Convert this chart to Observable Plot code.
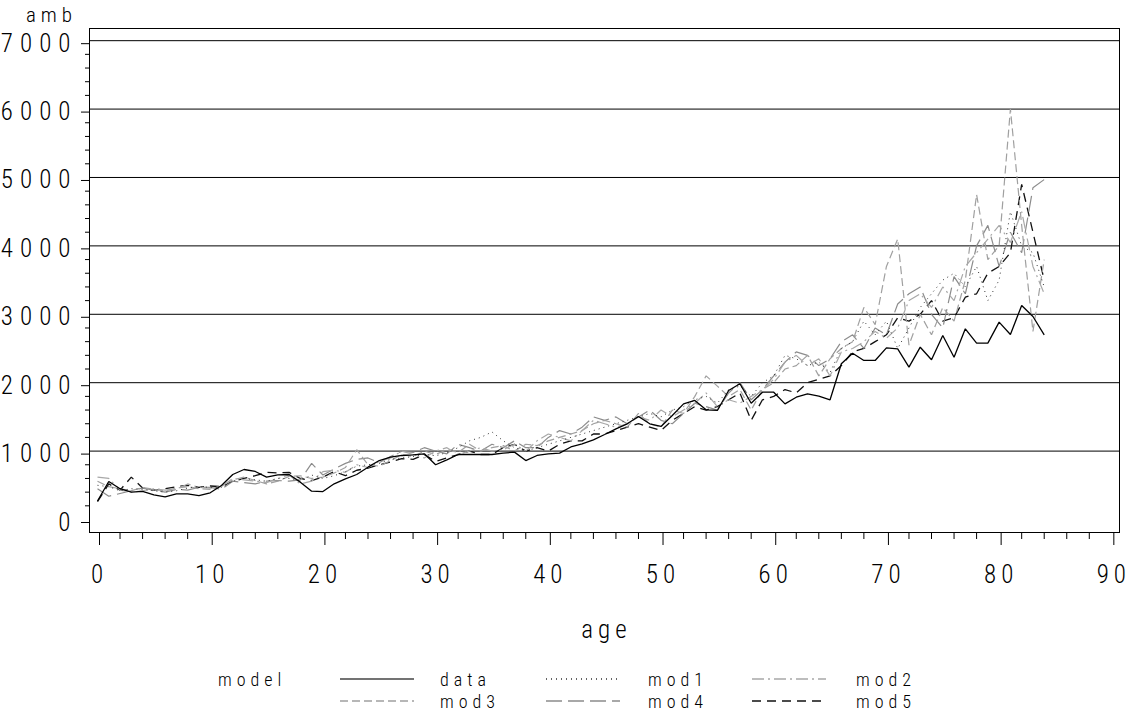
<!DOCTYPE html>
<html><head><meta charset="utf-8">
<script src="https://cdn.jsdelivr.net/npm/d3@7"></script>
<script src="https://cdn.jsdelivr.net/npm/@observablehq/plot@0.6"></script>
<style>
body{margin:0;background:#fff;}
#wrap{position:relative;width:1132px;height:721px;overflow:hidden;background:#fff;}
#chart svg text, #legend text{font-family:"Roboto Condensed","Liberation Sans Narrow","DejaVu Sans Condensed",sans-serif;font-weight:300;letter-spacing:5px;fill:#000;}
#chart svg g[aria-label="y-axis tick label"] text{letter-spacing:7px;}
#legend text{letter-spacing:5px;}
</style></head><body><div id="wrap"><div id="chart"></div><svg id="legend" width="1132" height="71"></svg></div>
<script>
const ages = Array.from({length: 85}, (_, i) => i);
const data = [270,555,450,400,410,360,330,375,375,350,390,497,658,731,702,619,653,658,546,414,409,522,595,658,765,862,911,936,945,960,800,873,950,950,950,950,970,985,862,936,960,970,1060,1106,1165,1243,1326,1399,1506,1399,1360,1520,1691,1740,1604,1594,1886,1984,1700,1861,1861,1691,1788,1837,1803,1750,2276,2431,2325,2325,2510,2495,2227,2519,2335,2690,2373,2788,2578,2578,2885,2705,3129,2968,2700];
const mod1 = [500,480,420,450,440,420,400,420,460,480, 470,470,560,600,580,560,600,600,570,650, 600,640,700,780,800,820,880,900,920,960, 930,980,1050,1150,1200,1280,1150,1050,1000,1050, 1100,1150,1200,1250,1300,1350,1400,1450,1500,1550, 1500,1600,1650,1750,1800,1700,1900,1950,1800,2000, 2100,2400,2350,2250,2300,2150,2500,2600,2900,2700, 2900,2500,2800,3100,3300,3500,3600,3400,3700,3200, 3500,4500,4000,3900,3400];
const mod2 = [620,600,430,400,420,450,430,440,520,470, 460,480,600,580,560,540,600,650,520,560, 700,720,690,800,760,850,900,1000,950,900, 1000,1050,950,1000,1050,1000,1020,1100,1000,1150, 1250,1200,1150,1300,1450,1400,1350,1400,1500,1450, 1600,1500,1600,1700,1850,1650,1750,1700,1800,1900, 2050,2300,2400,2250,2350,2100,2450,2500,2600,2750, 2650,2800,3200,3300,3100,3400,3200,3700,3900,4100, 4300,4050,4500,3700,3300];
const mod3 = [560,480,450,420,470,440,420,460,480,450, 440,490,580,620,570,520,560,630,640,600, 620,680,760,1020,800,780,860,950,920,1000, 950,1020,980,1100,1000,1050,1080,1000,1100,1080, 1150,1200,1250,1300,1400,1450,1400,1350,1550,1400, 1350,1600,1550,1800,2100,1950,1800,1900,1600,1900, 2000,2200,2250,2400,2100,2350,2500,2600,3100,2850, 3700,4100,2550,3000,2700,3100,2900,3500,4750,3800, 4000,6000,4300,2750,3800];
const mod4 = [450,340,380,420,460,430,400,440,430,470, 470,440,560,540,520,560,570,560,580,820, 650,740,820,880,900,830,920,1000,980,1050, 1000,960,1100,1050,1000,1100,1050,1150,1050,1050, 1200,1300,1250,1350,1500,1450,1500,1400,1500,1600, 1450,1400,1550,1700,1650,1600,1850,2000,1750,1900, 2100,2300,2450,2400,2250,2350,2600,2700,2500,2800, 2700,3150,3300,3400,3000,2800,3550,3300,4000,4300, 3700,4200,3900,4850,4970];
const mod5 = [260,520,430,620,460,430,450,480,500,470, 490,480,560,600,640,690,680,690,600,570, 620,700,640,720,750,800,840,890,880,950, 850,900,950,1000,950,950,1050,1100,1000,1050, 1000,1100,1150,1150,1250,1250,1300,1350,1400,1350, 1300,1450,1550,1650,1600,1650,1750,1850,1450,1750, 1800,1900,1850,2000,2050,2100,2250,2450,2500,2600, 2700,2950,2900,3000,3200,2900,2950,3250,3300,3600, 3700,3900,4900,4200,3500];

const seriesNames = ["data","mod1","mod2","mod3","mod4","mod5"];
const seriesValues = [data, mod1, mod2, mod3, mod4, mod5];
const styles = {
  data: {stroke:"#000", strokeWidth:1.3, dash:null},
  mod1: {stroke:"#333", strokeWidth:1, dash:"1,4"},
  mod2: {stroke:"#a8a8a8", strokeWidth:1.2, dash:"12,4,2,4"},
  mod3: {stroke:"#a0a0a0", strokeWidth:1.2, dash:"8,4"},
  mod4: {stroke:"#8c8c8c", strokeWidth:1.2, dash:"16,6"},
  mod5: {stroke:"#111", strokeWidth:1.3, dash:"9,6"}
};
const yMajor = [0,1000,2000,3000,4000,5000,6000,7000];
const yGrid = [1000,2000,3000,4000,5000,6000,7000];
const yMinor = d3.range(0, 7000, 200).filter(v => v % 1000 !== 0);
const xMajor = [0,10,20,30,40,50,60,70,80,90];
const xMinor = d3.range(0, 91, 2).filter(v => v % 10 !== 0);

const rows = seriesNames.flatMap((name, k) => ages.map((a, i) => ({model: name, age: a, amb: seriesValues[k][i]})));

const fs = 25;
const chart = Plot.plot({
  width: 1132, height: 650,
  marginLeft: 89, marginRight: 13, marginTop: 28, marginBottom: 118,
  x: {domain: [-0.71, 90.68], label: null},
  y: {domain: [-190, 7178], label: null},
  style: {background: "#fff", overflow: "visible"},
  marks: [
    Plot.ruleY(yGrid, {stroke: "#000", strokeWidth: 1}),
    ...seriesNames.slice().reverse().map(n => Plot.line(rows.filter(r => r.model === n), {
      x: "age", y: "amb", stroke: styles[n].stroke, strokeWidth: styles[n].strokeWidth,
      strokeDasharray: styles[n].dash, strokeLinejoin: "miter", strokeLinecap: "butt"
    })),
    Plot.frame({stroke: "#000", strokeWidth: 1}),
    Plot.axisY({ticks: yMajor, tickSize: 8, tickPadding: 4, dy: 3, fontSize: fs, tickFormat: d3.format("d"), label: null, stroke: "#000"}),
    Plot.axisY({ticks: yMinor, tickSize: 4, tickFormat: () => "", label: null, stroke: "#000"}),
    Plot.axisX({ticks: xMajor, tickSize: 13, tickPadding: 20, dx: 2, fontSize: fs, tickFormat: d3.format("d"), label: null, stroke: "#000"}),
    Plot.axisX({ticks: xMinor, tickSize: 7, tickFormat: () => "", label: null, stroke: "#000"}),
    Plot.text(["age"], {frameAnchor: "bottom", dy: 97, dx: 2, fontSize: fs, lineAnchor: "middle"}),
    Plot.text(["amb"], {frameAnchor: "top-left", dx: -38, dy: -13, fontSize: 21, textAnchor: "middle", lineAnchor: "middle"})
  ]
});
document.getElementById("chart").appendChild(chart);

// legend
const legendItems = [
  {name:"data", row:0, col:0}, {name:"mod1", row:0, col:1}, {name:"mod2", row:0, col:2},
  {name:"mod3", row:1, col:0}, {name:"mod4", row:1, col:1}, {name:"mod5", row:1, col:2}
];
const colLineX = [340, 546, 752];
const colTextX = [440, 648, 856];
const rowY = [29, 51];
const lfs = 18;
const lg = d3.select("#legend");
lg.append("text").attr("x", 218).attr("y", rowY[0]).attr("dominant-baseline","central").attr("font-size", lfs).text("model");
legendItems.forEach(it => {
  const s = styles[it.name];
  lg.append("line").attr("x1", colLineX[it.col]).attr("x2", colLineX[it.col] + 74)
    .attr("y1", rowY[it.row]).attr("y2", rowY[it.row])
    .attr("stroke", it.name === "data" ? "#444" : s.stroke).attr("stroke-width", 1.5)
    .attr("stroke-dasharray", s.dash);
  lg.append("text").attr("x", colTextX[it.col]).attr("y", rowY[it.row]).attr("dominant-baseline","central")
    .attr("font-size", lfs).text(it.name);
});
</script></body></html>
